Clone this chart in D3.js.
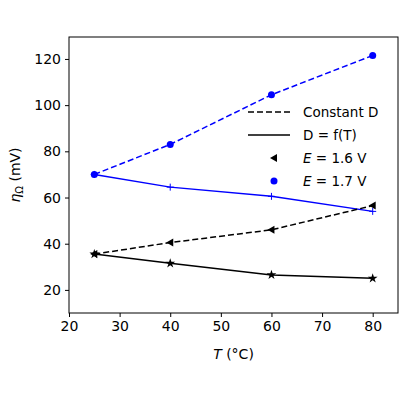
<!DOCTYPE html>
<html><head><meta charset="utf-8">
<script src="https://cdn.jsdelivr.net/npm/d3@7"></script>
<style>body{margin:0;background:#fff}text{font-family:"DejaVu Sans",sans-serif}</style>
</head><body><div id="chart"></div>
<script>
// data
const temps = [25, 40, 60, 80];
const blueConstD = [70, 83, 104.5, 121.5];
const blueFT = [70, 64.5, 60.5, 54];
const blackConstD = [35.5, 40.5, 46, 56.5];
const blackFT = [35.5, 31.5, 26.5, 25];
const xTicks = [20, 30, 40, 50, 60, 70, 80];
const yTicks = [20, 40, 60, 80, 100, 120];

const W = 400, H = 400;
const m = {left: 69, right: 2, top: 37, bottom: 87};
const svg = d3.select("#chart").append("svg").attr("width", W).attr("height", H);

const x = d3.scaleLinear().domain([20, 85]).range([m.left, W - m.right]);
const y = d3.scaleLinear().domain([10, 129.5]).range([H - m.bottom, m.top]);

const xAxis = svg.append("g").attr("transform", `translate(0,${H - m.bottom})`)
    .call(d3.axisBottom(x).tickValues(xTicks).tickSize(4).tickPadding(4));
const yAxis = svg.append("g").attr("transform", `translate(${m.left},0)`)
    .call(d3.axisLeft(y).tickValues(yTicks).tickSize(4).tickPadding(4));
[xAxis, yAxis].forEach(a => {
    a.selectAll("text").attr("font-size", 14).attr("fill", "#000");
    a.select(".domain").remove();
    a.selectAll("line").attr("stroke", "#000");
});
svg.append("rect").attr("x", m.left).attr("y", m.top)
    .attr("width", W - m.left - m.right).attr("height", H - m.top - m.bottom)
    .attr("fill", "none").attr("stroke", "#000").attr("stroke-width", 1);

// axis labels
svg.append("text").attr("x", (m.left + W - m.right) / 2).attr("y", 359)
    .attr("text-anchor", "middle").attr("font-size", 14)
    .html('<tspan font-style="italic">T</tspan> (°C)');
svg.append("text").attr("transform", `translate(20,${(m.top + H - m.bottom) / 2}) rotate(-90)`)
    .attr("text-anchor", "middle").attr("font-size", 14)
    .html('<tspan font-style="italic">η</tspan><tspan font-size="10" dy="3">Ω</tspan><tspan dy="-3"> (mV)</tspan>');

const line = d3.line().x((d, i) => x(temps[i])).y(d => y(d));
const series = [
    {v: blueConstD, c: "#0000ff", dash: "6,3", mk: "dot"},
    {v: blueFT, c: "#0000ff", dash: null, mk: "plus"},
    {v: blackConstD, c: "#000", dash: "6,3", mk: "tri"},
    {v: blackFT, c: "#000", dash: null, mk: "star"}
];
function marker(g, type, cx, cy, c) {
    if (type === "dot") g.append("circle").attr("cx", cx).attr("cy", cy).attr("r", 3.5).attr("fill", c);
    else if (type === "plus") g.append("path").attr("d", `M${cx-3.5},${cy}H${cx+3.5}M${cx},${cy-3.5}V${cy+3.5}`).attr("stroke", c);
    else if (type === "tri") g.append("path").attr("d", `M${cx-4},${cy}L${cx+3},${cy-4}L${cx+3},${cy+4}Z`).attr("fill", c);
    else g.append("path").attr("transform", `translate(${cx},${cy})`)
        .attr("d", d3.symbol().type(d3.symbolStar).size(30)()).attr("fill", c);
}
series.forEach(s => {
    svg.append("path").attr("d", line(s.v)).attr("fill", "none").attr("stroke", s.c)
        .attr("stroke-width", 1.5).attr("stroke-dasharray", s.dash);
    s.v.forEach((d, i) => marker(svg, s.mk, x(temps[i]), y(d), s.c));
});

// legend
const lg = svg.append("g").attr("font-size", 13.5);
lg.append("line").attr("x1", 248).attr("x2", 290).attr("y1", 112).attr("y2", 112)
    .attr("stroke", "#000").attr("stroke-width", 1.5).attr("stroke-dasharray", "6,3");
lg.append("text").attr("x", 303).attr("y", 117).text("Constant D");
lg.append("line").attr("x1", 248).attr("x2", 290).attr("y1", 135).attr("y2", 135)
    .attr("stroke", "#000").attr("stroke-width", 1.5);
lg.append("text").attr("x", 303).attr("y", 140).text("D = f(T)");
marker(lg, "tri", 274, 158, "#000");
lg.append("text").attr("x", 303).attr("y", 163).html('<tspan font-style="italic">E</tspan> = 1.6 V');
marker(lg, "dot", 274, 181, "#0000ff");
lg.append("text").attr("x", 303).attr("y", 186).html('<tspan font-style="italic">E</tspan> = 1.7 V');
</script></body></html>
